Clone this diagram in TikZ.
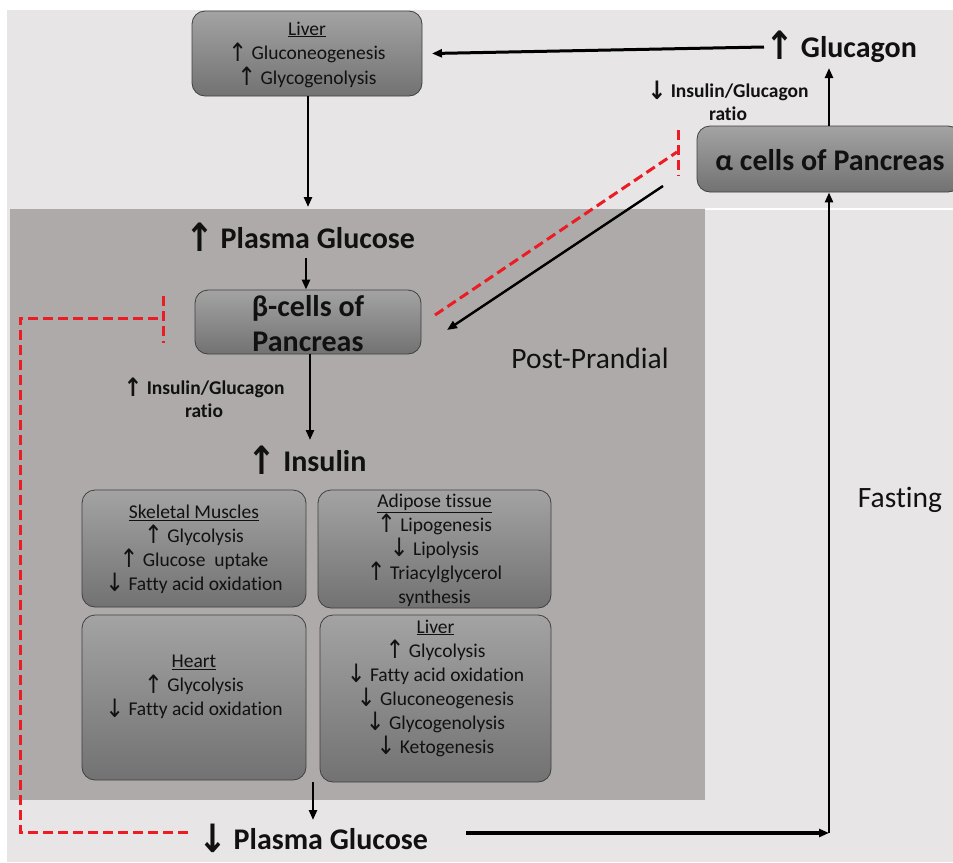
\documentclass[tikz,border=0pt]{standalone}
\usepackage{fontspec}
\usepackage{graphicx}
\setmainfont[Ligatures=NoCommon]{Carlito}
\newfontfamily\arrfont{DejaVu Sans}
\newcommand\UpA{\raisebox{-0.08em}{\scalebox{1.15}[1.3]{\arrfont ↑}}}
\newcommand\DnA{\raisebox{-0.08em}{\scalebox{1.15}[1.3]{\arrfont ↓}}}
\usetikzlibrary{arrows.meta}
\definecolor{bglight}{HTML}{E7E5E6}
\definecolor{bgdark}{HTML}{AEAAA9}
\definecolor{boxtop}{HTML}{A3A3A3}
\definecolor{boxbot}{HTML}{727272}
\definecolor{inhred}{HTML}{EC1C24}
\definecolor{ink}{HTML}{111111}
\tikzset{
  box/.style={draw=black!75, line width=0.8pt, rounded corners=13pt, top color=boxtop, bottom color=boxbot, inner sep=0pt},
  boxtxt/.style={align=center, text=ink, font=\fontsize{19.5}{24}\selectfont, inner sep=1pt},
  bigtxt/.style={align=center, text=ink, font=\bfseries\fontsize{30}{35}\selectfont, inner sep=1pt},
  lbl/.style={align=center, text=ink, font=\bfseries\fontsize{19.5}{23}\selectfont, inner sep=1pt},
  phase/.style={align=center, text=ink, font=\fontsize{29.5}{32}\selectfont, inner sep=1pt},
  arr/.style={-{Triangle[length=10pt,width=8pt]}, line width=2.4pt, draw=black},
  inh/.style={draw=inhred, line width=3pt, dash pattern=on 10pt off 5pt},
}
\begin{document}
\begin{tikzpicture}[x=1pt,y=-1pt]
\useasboundingbox (0,0) rectangle (953,862);
\fill[white] (0,0) rectangle (953,862);
\fill[bglight] (7,10) rectangle (953,862);
\fill[bgdark] (10,209) rectangle (705,800);
\draw[white, line width=1.2pt] (705,209) -- (953,209);

% top liver
\node[box, minimum width=230pt, minimum height=85pt] (liver) at (307,53.5) {};
\node[boxtxt, font=\fontsize{19.5}{24.5}\selectfont] (livertxt) at (307,54.5) {\underline{Liver}\\\UpA\ Gluconeogenesis\\\UpA\ Glycogenolysis};

% glucagon
\node[bigtxt] (glucagon) at (841,47) {\UpA\ Glucagon};
% alpha cells
\node[box, minimum width=264pt, minimum height=66pt] (alpha) at (829,159) {};
\node[bigtxt] (alphatxt) at (830,160) {α cells of Pancreas};
\node[lbl] (ratiodown) at (728,101) {\DnA\ Insulin/Glucagon\\ratio};

% post-prandial region
\node[bigtxt] (pgup) at (300,237) {\UpA\ Plasma Glucose};
\node[box, minimum width=226pt, minimum height=64pt] (beta) at (308,322) {};
\node[bigtxt] (betatxt) at (308,323.5) {β-cells of\\Pancreas};
\node[lbl] (ratioup) at (204,398) {\UpA\ Insulin/Glucagon\\ratio};
\node[bigtxt] (insulin) at (307,460) {\UpA\ Insulin};
\node[phase] (pp) at (590,358) {Post-Prandial};
\node[phase] (fasting) at (900,500) {Fasting};

% tissue boxes
\node[box, minimum width=224pt, minimum height=117pt] (skel) at (194,548.5) {};
\node[boxtxt] (skeltxt) at (194,549) {\underline{Skeletal Muscles}\\\UpA\ Glycolysis\\\UpA\ Glucose\ \ uptake\\\DnA\ Fatty acid oxidation};
\node[box, minimum width=233pt, minimum height=118pt] (adip) at (434.5,549) {};
\node[boxtxt] (adiptxt) at (434.5,550) {\underline{Adipose tissue}\\\UpA\ Lipogenesis\\\DnA\ Lipolysis\\\UpA\ Triacylglycerol\\synthesis};
\node[box, minimum width=224pt, minimum height=165pt] (heart) at (194,697.5) {};
\node[boxtxt] (hearttxt) at (194,687) {\underline{Heart}\\\UpA\ Glycolysis\\\DnA\ Fatty acid oxidation};
\node[box, minimum width=231pt, minimum height=167pt] (liverb) at (435.5,698.5) {};
\node[boxtxt] (liverbtxt) at (435.5,688) {\underline{Liver}\\\UpA\ Glycolysis\\\DnA\ Fatty acid oxidation\\\DnA\ Gluconeogenesis\\\DnA\ Glycogenolysis\\\DnA\ Ketogenesis};

% bottom
\node[bigtxt] (pgdown) at (313,838) {\DnA\ Plasma Glucose};

% coordinates
\coordinate (tissout) at (313,782);
\coordinate (corner) at (829,833);
\coordinate (abstart) at (663,186);
\coordinate (abend) at (447,330);
\coordinate (rbar1) at (678,130);
\coordinate (rbar2) at (678,176);
\coordinate (rbarm) at (677,152);
\coordinate (rstart) at (435,315);
\coordinate (lbar1) at (163,296);
\coordinate (lbar2) at (163,343);
\coordinate (lbarm) at (163,318);
\coordinate (lc1) at (20,832);
\coordinate (lc2) at (20,318);
\coordinate (lstart) at (188,832);
\coordinate (bstart) at (466,833);

% connectors
\draw[arr, line width=3pt] (glucagon.west) -- (liver.east -| 432,0);
\draw[arr] (liver.south -| 308,0) -- (308,207);
\draw[arr] (306,258) -- (beta.north -| 306,0) ;
\draw[arr] (beta.south -| 310,0) -- (310,440);
\draw[arr] (tissout) -- (313,820);
\draw[arr, line width=3.2pt] (bstart) -- (corner);
\draw[arr] (corner) -- (alpha.south);
\draw[arr] (alpha.north) -- (829,68);
\draw[arr] (abstart) -- (abend);

% inhibitions
\draw[inh] (rstart) -- (rbarm);
\draw[inh] (rbar1) -- (rbar2);
\draw[inh] (lstart) -- (lc1) -- (lc2) -- (lbarm);
\draw[inh] (lbar1) -- (lbar2);
\end{tikzpicture}
\end{document}
